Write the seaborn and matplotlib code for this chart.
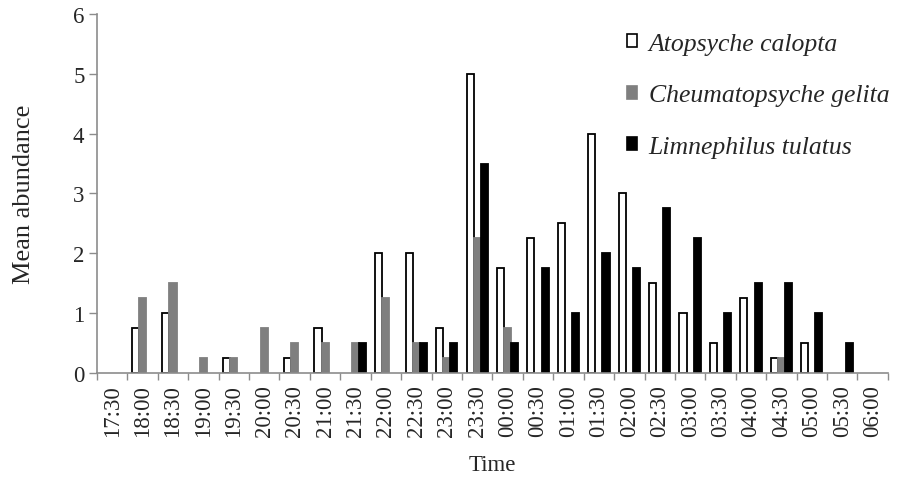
import matplotlib
matplotlib.use("Agg")
import matplotlib.pyplot as plt
from matplotlib.patches import Patch
import numpy as np
import pandas as pd
import seaborn as sns

# Sampling times (half-hour intervals through the night)
times = ["17:30", "18:00", "18:30", "19:00", "19:30", "20:00", "20:30",
         "21:00", "21:30", "22:00", "22:30", "23:00", "23:30", "00:00",
         "00:30", "01:00", "01:30", "02:00", "02:30", "03:00", "03:30",
         "04:00", "04:30", "05:00", "05:30", "06:00"]

species = ["Atopsyche calopta", "Cheumatopsyche gelita", "Limnephilus tulatus"]

# Mean abundance per species at each time
atopsyche = [0, 0.75, 1.0, 0, 0.25, 0, 0.25, 0.75, 0, 2.0, 2.0, 0.75, 5.0,
             1.75, 2.25, 2.5, 4.0, 3.0, 1.5, 1.0, 0.5, 1.25, 0.25, 0.5, 0, 0]
cheumatopsyche = [0, 1.25, 1.5, 0.25, 0.25, 0.75, 0.5, 0.5, 0.5, 1.25, 0.5,
                  0.25, 2.25, 0.75, 0, 0, 0, 0, 0, 0, 0, 0, 0.25, 0, 0, 0]
limnephilus = [0, 0, 0, 0, 0, 0, 0, 0, 0.5, 0, 0.5, 0.5, 3.5, 0.5, 1.75,
               1.0, 2.0, 1.75, 2.75, 2.25, 1.0, 1.5, 1.5, 1.0, 0.5, 0]

fills = {"Atopsyche calopta": "#ffffff",
         "Cheumatopsyche gelita": "#7f7f7f",
         "Limnephilus tulatus": "#000000"}
edges = {"Atopsyche calopta": "#000000",
         "Cheumatopsyche gelita": "#7f7f7f",
         "Limnephilus tulatus": "#000000"}

df = pd.DataFrame({
    "Time": times * 3,
    "Mean abundance": atopsyche + cheumatopsyche + limnephilus,
    "Species": [species[0]] * len(times) + [species[1]] * len(times)
               + [species[2]] * len(times),
})

sns.set_style("white")
plt.rcParams["font.family"] = ["Liberation Serif", "DejaVu Serif"]

fig = plt.figure(figsize=(9.06, 4.85), dpi=100)
ax = fig.add_axes([0.107, 0.229, 0.873, 0.74])

sns.barplot(data=df, x="Time", y="Mean abundance", hue="Species",
            order=times, hue_order=species, palette=fills, saturation=1,
            width=0.7, errorbar=None, legend=False, ax=ax)

for sp, cont in zip(species, ax.containers):
    for patch in cont.patches:
        if patch.get_height() <= 0:
            patch.set_visible(False)
            continue
        patch.set_edgecolor(edges[sp])
        patch.set_linewidth(1.3)

ax.set_xlim(-0.5, len(times) - 0.5)
ax.set_ylim(0, 6)
ax.set_yticks(range(0, 7))

axis_grey = "#8c8c8c"
for side in ["top", "right"]:
    ax.spines[side].set_visible(False)
for side in ["left", "bottom"]:
    ax.spines[side].set_color(axis_grey)
    ax.spines[side].set_linewidth(1.2)

# category boundaries carry the x tick marks; labels sit centred between them
ax.set_xticks(np.arange(-0.5, len(times), 1.0), minor=True)
ax.tick_params(axis="x", which="minor", length=5, width=1.0, color=axis_grey,
               direction="out", bottom=True)
ax.tick_params(axis="x", which="major", length=0, pad=8, labelsize=16.5,
               labelrotation=90)
ax.tick_params(axis="y", which="major", length=6, width=1.0, color=axis_grey,
               direction="out", left=True, pad=3, labelsize=16.5)

ax.set_xlabel("Time", fontsize=16.5, labelpad=13)
ax.set_ylabel("Mean abundance", fontsize=19, labelpad=27)

handles = [Patch(facecolor=fills[s], edgecolor=edges[s], linewidth=1.2)
           for s in species]
leg = fig.legend(handles, species, loc="upper left",
                 bbox_to_anchor=(614 / 906, 1 - 21 / 485),
                 frameon=False, borderpad=0, handlelength=0.4,
                 handleheight=0.4, handletextpad=0.45, labelspacing=1.15,
                 prop={"family": "Liberation Serif", "style": "italic",
                       "size": 18.5})

fig.savefig("out.png", dpi=100)
